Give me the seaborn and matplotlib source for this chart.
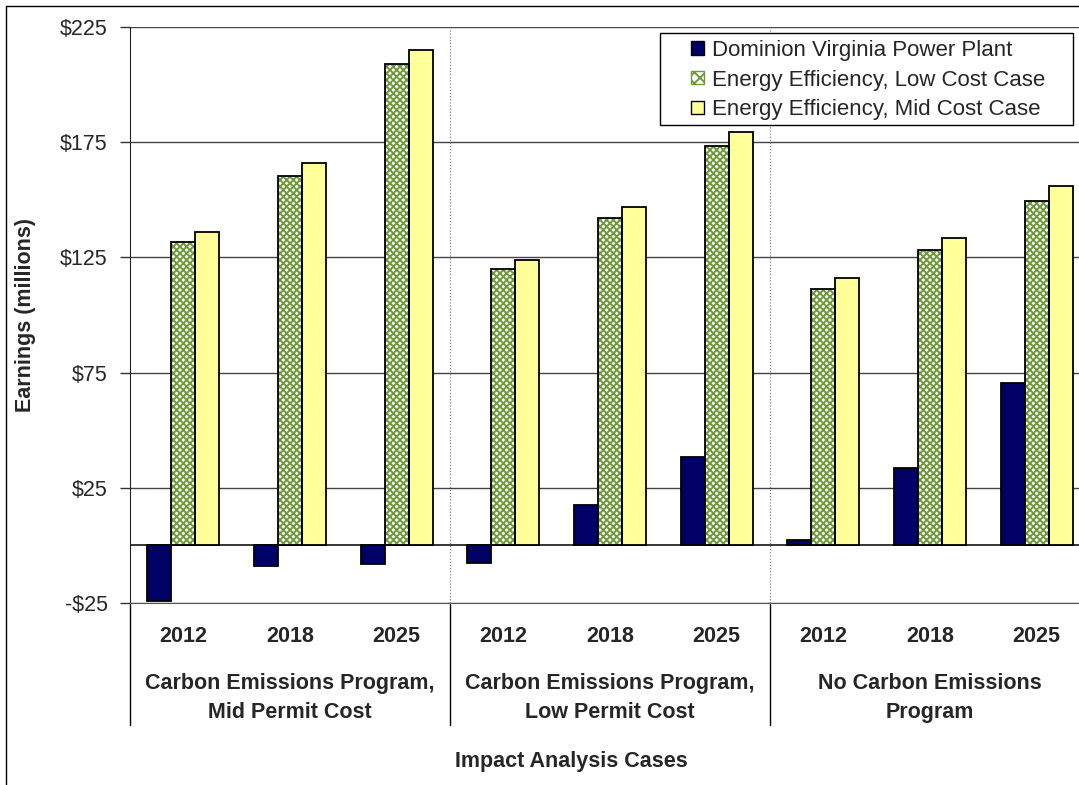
import matplotlib
matplotlib.use("Agg")
import matplotlib.pyplot as plt
import matplotlib.patches as mpatches
import matplotlib.transforms as mtransforms
from matplotlib.legend_handler import HandlerPatch
import pandas as pd
import seaborn as sns

# --- data ---
groups = ["Carbon Emissions Program,\nMid Permit Cost",
          "Carbon Emissions Program,\nLow Permit Cost",
          "No Carbon Emissions\nProgram"]
years = ["2012", "2018", "2025"]
series = ["Dominion Virginia Power Plant",
          "Energy Efficiency, Low Cost Case",
          "Energy Efficiency, Mid Cost Case"]

dominion = [-24, -9, -8, -7.5, 17.5, 38.5, 2.5, 33.5, 70.5]
ee_low = [131.5, 160.5, 209, 120, 142, 173.5, 111.5, 128, 149.5]
ee_mid = [136, 166, 215, 124, 147, 179.5, 116, 133.5, 156]

yticks = [-25, 25, 75, 125, 175, 225]

cases = [f"{g}|{y}" for g in groups for y in years]
df = pd.DataFrame({
    "case": cases * 3,
    "serie": [s for s in series for _ in cases],
    "valor": dominion + ee_low + ee_mid,
})

cores = ["#000066", "#FFFFFF", "#FFFF99"]
FS = 15.5

sns.set_style("white")
plt.rcParams["font.family"] = ["Liberation Sans", "DejaVu Sans"]
plt.rcParams["hatch.linewidth"] = 1.4

fig = plt.figure(figsize=(10.79, 7.85), dpi=100)
ax = fig.add_axes([130 / 1079, 1 - 603 / 785, 960 / 1079, 576 / 785])

sns.barplot(data=df, x="case", y="valor", hue="serie", order=cases,
            hue_order=series, palette=cores, saturation=1, width=0.675,
            gap=0, edgecolor="black", linewidth=1.3, ax=ax, errorbar=None,
            zorder=3)

# hatch for the low cost bars (green pattern, black outline on top)
for p in ax.containers[1]:
    p.set_hatch("xxxxx")
    p.set_edgecolor("#6E9A3C")
    p.set_linewidth(0)
    ax.add_patch(mpatches.Rectangle(p.get_xy(), p.get_width(), p.get_height(),
                                    fill=False, edgecolor="black", lw=1.3,
                                    zorder=4))

ax.set_xlim(-0.5, len(cases) - 0.5)
ax.set_ylim(-25, 225)
ax.set_yticks(yticks)
ax.set_yticklabels([f"-${abs(v)}" if v < 0 else f"${v}" for v in yticks],
                   fontsize=FS)
ax.tick_params(axis="y", direction="out", length=7, width=1, left=True,
               color="#333333", pad=9)
ax.set_xticks([])
ax.grid(axis="y", color="#444444", linewidth=1, zorder=0)
ax.axhline(0, color="black", linewidth=1.1, zorder=2)

for s in ["top", "right", "bottom"]:
    ax.spines[s].set_visible(False)
ax.spines["left"].set_color("#222222")
ax.spines["bottom"].set_visible(True)
ax.spines["bottom"].set_color("#555555")

trans = mtransforms.blended_transform_factory(ax.transData, ax.transAxes)
# dotted separators inside the plot, solid below it
for xs in [2.5, 5.5]:
    ax.plot([xs, xs], [0, 1], transform=trans, color="#888888", lw=0.9,
            linestyle=(0, (1, 1.5)), zorder=1)
for xs in [-0.5, 2.5, 5.5]:
    ax.plot([xs, xs], [0, -122 / 576], transform=trans, color="black",
            lw=1, clip_on=False)

for i, c in enumerate(cases):
    ax.text(i, -(636 - 603) / 576, c.split("|")[1], transform=trans,
            ha="center", va="center", fontsize=FS, fontweight="bold")
for j, g in enumerate(groups):
    ax.text(3 * j + 1, -(698 - 603) / 576, g, transform=trans, ha="center",
            va="center", fontsize=FS, fontweight="bold", linespacing=1.45)

ax.set_ylabel("")
ax.set_xlabel("")
fig.text(571 / 1079, 1 - 762 / 785, "Impact Analysis Cases", ha="center",
         va="center", fontsize=FS, fontweight="bold")
fig.text(26 / 1079, 1 - 315 / 785, "Earnings (millions)", ha="center",
         va="center", rotation=90, fontsize=FS, fontweight="bold")


# legend squares sit at the right end of a wider handle area (Excel style)
def quadrado(legend, orig_handle, xdescent, ydescent, width, height, fontsize):
    s = height
    return mpatches.Rectangle((width - s - xdescent, -ydescent), s, s)


leg = ax.legend(loc="upper left", bbox_to_anchor=(660 / 1079, 1 - 33 / 785),
                bbox_transform=fig.transFigure, fontsize=16, frameon=False,
                handlelength=1.7, handleheight=0.55, handletextpad=0.36,
                borderpad=0.3, labelspacing=0.4, borderaxespad=0,
                handler_map={mpatches.Rectangle: HandlerPatch(patch_func=quadrado)})
leg.set_zorder(10)
for h in leg.legend_handles:
    h.set_linewidth(1)
    h.set_edgecolor("black")
leg.legend_handles[1].set_edgecolor("#6E9A3C")
leg.legend_handles[1].set_hatch("xxx")

# legend box (Excel draws it wider than the text)
ax.add_patch(mpatches.Rectangle((660 / 1079, 1 - 125 / 785), 413 / 1079,
                                92 / 785, transform=fig.transFigure,
                                facecolor="white", edgecolor="black",
                                lw=1, zorder=9, clip_on=False))

# outer frame of the chart area
fig.add_artist(plt.Line2D([6 / 1079, 6 / 1079], [0, 1 - 6 / 785],
                          transform=fig.transFigure, color="black", lw=1))
fig.add_artist(plt.Line2D([6 / 1079, 1], [1 - 6 / 785, 1 - 6 / 785],
                          transform=fig.transFigure, color="black", lw=1))

fig.savefig("out.png", dpi=100)
